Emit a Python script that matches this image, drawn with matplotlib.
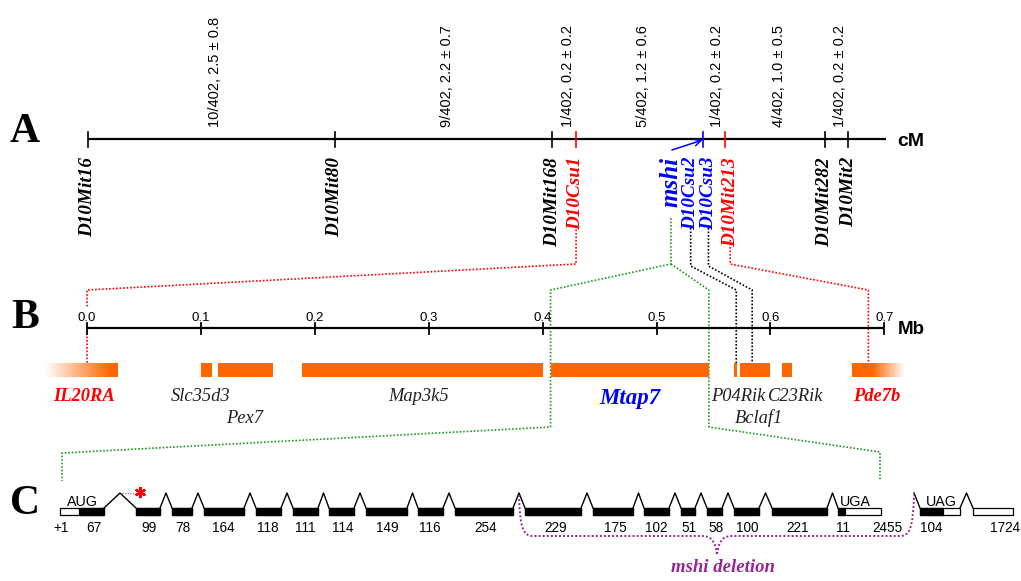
import numpy as np
import matplotlib
matplotlib.use('Agg')
import matplotlib.pyplot as plt
from matplotlib.patches import Rectangle, PathPatch
from matplotlib.path import Path
from matplotlib.colors import to_rgb

# ---------------- Panel A: genetic map (cM) ----------------
tick_names = ['D10Mit16', 'D10Mit80', 'D10Mit168', 'D10Csu1', 'mshi', 'D10Mit213', 'D10Mit282', 'D10Mit2']
tick_cm = [0.0, 2.5, 4.7, 4.94, 6.22, 6.45, 7.46, 7.69]
tick_colors = ['black', 'black', 'black', 'red', 'blue', 'red', 'black', 'black']
interval_labels = ['10/402, 2.5 \u00b1 0.8', '9/402, 2.2 \u00b1 0.7', '1/402, 0.2 \u00b1 0.2',
                   '5/402, 1.2 \u00b1 0.6', '1/402, 0.2 \u00b1 0.2', '4/402, 1.0 \u00b1 0.5',
                   '1/402, 0.2 \u00b1 0.2']
marker_labels = ['D10Mit16', 'D10Mit80', 'D10Mit168', 'D10Csu1', 'mshi', 'D10Csu2', 'D10Csu3',
                 'D10Mit213', 'D10Mit282', 'D10Mit2']
marker_label_cm = [0.0, 2.5, 4.7, 4.94, 5.90, 6.10, 6.28, 6.50, 7.46, 7.70]
marker_label_colors = ['black', 'black', 'black', 'red', 'blue', 'blue', 'blue', 'red', 'black', 'black']
axis_cm_end = 8.08

# ---------------- Panel B: physical map (Mb) ----------------
mb_ticks = [0.0, 0.1, 0.2, 0.3, 0.4, 0.5, 0.6, 0.7]
mb_tick_labels = ['0.0', '0.1', '0.2', '0.3', '0.4', '0.5', '0.6', '0.7']
gene_names = ['IL20RA', 'Slc35d3', 'Pex7', 'Map3k5', 'Mtap7', 'P04Rik', 'Bclaf1', 'C23Rik', 'Pde7b']
gene_start = [-0.037, 0.100, 0.115, 0.189, 0.407, 0.568, 0.573, 0.610, 0.672]
gene_end = [0.027, 0.110, 0.163, 0.4005, 0.546, 0.571, 0.600, 0.619, 0.718]
gene_label_mb = [-0.003, 0.100, 0.138, 0.2915, 0.4767, 0.5716, 0.590, 0.6225, 0.6936]
gene_label_row = [0, 0, 1, 0, 0, 0, 1, 0, 0]
gene_label_color = ['red', '#222222', '#222222', '#222222', 'blue', '#222222', '#222222', '#222222', 'red']
gene_label_bold = [True, False, False, False, True, False, False, False, True]
phys_marker_names = ['D10Csu1', 'D10Csu2', 'D10Csu3', 'D10Mit213']
phys_marker_mb = [0.0, 0.570, 0.584, 0.686]

# ---------------- Panel C: Mtap7 exon structure (schematic units) ----------------
exon_start = [60, 136, 172, 204, 256, 293, 329, 366, 418, 455, 525, 593, 644, 681, 707, 734, 772, 838, 920, 973]
exon_end = [104, 160, 192, 244, 281, 318, 354, 407, 443, 513, 581, 633, 669, 695, 722, 759, 827, 881, 960, 1013]
cds_start = [79, 136, 172, 204, 256, 293, 329, 366, 418, 455, 525, 593, 644, 681, 707, 734, 772, 838, 920, None]
cds_end = [104, 160, 192, 244, 281, 318, 354, 407, 443, 513, 581, 633, 669, 695, 722, 759, 827, 845, 943, None]
alt_intron_peak = 914
exon_label_text = ['+1', '67', '99', '78', '164', '118', '111', '114', '149', '116', '254', '229', '175',
                   '102', '51', '58', '100', '221', '11', '2455', '104', '1724']
exon_label_x = [61, 94, 149, 183, 223, 268, 305, 343, 387, 430, 486, 556, 615, 656, 689, 716, 747,
                798, 843, 887, 931, 1005]
codon_text = ['AUG', 'UGA', 'UAG']
codon_x = [82, 855, 941]
deletion_first_intron = 9   # intron after exon index 9 (peak at deletion start)

# ---------------- styles ----------------
W, H = 1021, 581
ORANGE = '#FF6600'
GREEN = '#1E9B1E'
PURPLE = '#962596'
SERIF = 'Liberation Serif'
SANS = 'Liberation Sans'
DOT = (0, (1, 1.1))

fig = plt.figure(figsize=(W / 100, H / 100), dpi=100)
base = fig.add_axes([0, 0, 1, 1])
base.set_xlim(0, W)
base.set_ylim(H, 0)
base.axis('off')

# cM axes: 0 cM at px 88, 98.8 px per cM
axA = fig.add_axes([0, 0, 1, 1], facecolor='none')
axA.set_xlim(-88 / 98.8, (W - 88) / 98.8)
axA.set_ylim(H, 0)
axA.axis('off')
# Mb axes: 0 Mb at px 87, 1139 px per Mb
axB = fig.add_axes([0, 0, 1, 1], facecolor='none')
axB.set_xlim(-87 / 1139, (W - 87) / 1139)
axB.set_ylim(H, 0)
axB.axis('off')


def px(ax, x):
    return base.transData.inverted().transform(ax.transData.transform((x, 0)))[0]


# Panel letters
for letter, y in zip(['A', 'B', 'C'], [142, 328, 514]):
    base.text(25, y, letter, fontsize=30, fontweight='bold', family=SERIF, ha='center', va='baseline')

# ---------- Panel A ----------
yA = 139
axA.plot([tick_cm[0], axis_cm_end], [yA, yA], color='black', lw=1.6, solid_capstyle='butt', zorder=3)
for cm, c in zip(tick_cm, tick_colors):
    axA.plot([cm, cm], [132, 147], color=c, lw=1.2, zorder=4)
base.text(897, 146, 'cM', fontsize=14, fontweight='bold', family=SANS, ha='left', va='baseline')
for i, lab in enumerate(interval_labels):
    mid = (tick_cm[i] + tick_cm[i + 1]) / 2
    axA.annotate(lab, (mid, 127), xytext=(2.5, 0), textcoords='offset points', rotation=90,
                 ha='center', va='bottom', fontsize=10.5, family=SANS)
for lab, cm, c in zip(marker_labels, marker_label_cm, marker_label_colors):
    fs = 18 if lab == 'mshi' else 13.8
    axA.text(cm, 157, lab, rotation=90, ha='center', va='top', fontsize=fs, fontweight='bold',
             style='italic', family=SERIF, color=c)
# mshi arrow
axA.annotate('', xy=(tick_cm[4], 140), xytext=(5.91, 150),
             arrowprops=dict(arrowstyle='->', color='blue', lw=1.1, shrinkA=0, shrinkB=0,
                             mutation_scale=12))

# ---------- Connectors A -> B -> C ----------
csu1_x = px(axA, marker_label_cm[3])
mshi_x = px(axA, marker_label_cm[4])
csu2_x = px(axA, marker_label_cm[5])
csu3_x = px(axA, marker_label_cm[6])
mit213_x = px(axA, marker_label_cm[7])
b_csu1 = px(axB, phys_marker_mb[0])
b_csu2 = px(axB, phys_marker_mb[1])
b_csu3 = px(axB, phys_marker_mb[2])
b_mit213 = px(axB, phys_marker_mb[3])
b_mtap_s = px(axB, gene_start[4])
b_mtap_e = px(axB, gene_end[4])
c_s = exon_start[0]
c_e = exon_end[17]

lines = [
    ([csu1_x, csu1_x, b_csu1, b_csu1], [226, 264, 290, 308], 'red'),
    ([b_csu1, b_csu1], [333, 363], 'red'),
    ([mit213_x, mit213_x, b_mit213, b_mit213], [240, 264, 290, 363], 'red'),
    ([csu2_x, csu2_x, b_csu2, b_csu2], [228, 266, 290, 363], 'black'),
    ([csu3_x, csu3_x, b_csu3, b_csu3], [228, 266, 290, 363], 'black'),
    ([mshi_x, mshi_x, b_mtap_s, b_mtap_s, c_s + 2, c_s + 2], [218, 264, 290, 427, 453, 481], GREEN),
    ([mshi_x, b_mtap_e, b_mtap_e, c_e - 1, c_e - 1], [264, 290, 427, 452, 481], GREEN),
]
for xs, ys, c in lines:
    base.plot(xs, ys, color=c, lw=1.2, linestyle=DOT, zorder=6)

# ---------- Panel B ----------
yB = 328
axB.plot([mb_ticks[0], mb_ticks[-1]], [yB, yB], color='black', lw=1.6, solid_capstyle='butt', zorder=3)
for t, lab in zip(mb_ticks, mb_tick_labels):
    axB.plot([t, t], [323, 334], color='black', lw=1.3, zorder=4)
    axB.text(t, 321, lab, ha='center', va='baseline', fontsize=9.5, family=SANS)
base.text(898, 334, 'Mb', fontsize=13.5, fontweight='bold', family=SANS, ha='left', va='baseline')

rgb = to_rgb(ORANGE)
for i, (name, s, e) in enumerate(zip(gene_names, gene_start, gene_end)):
    if name == 'IL20RA':
        xs = np.linspace(s, e, 300)
        a = np.clip((xs - s) / (0.020 - s), 0, 1)
    elif name == 'Pde7b':
        xs = np.linspace(s, e, 300)
        a = np.clip((e - xs) / (e - 0.690), 0, 1)
    else:
        axB.add_patch(Rectangle((s, 363), e - s, 14, facecolor=ORANGE, edgecolor='none', zorder=2))
        continue
    img = np.zeros((1, 300, 4))
    img[..., 0], img[..., 1], img[..., 2] = rgb
    img[0, :, 3] = a
    axB.imshow(img, extent=(s, e, 377, 363), aspect='auto', interpolation='bilinear', zorder=2)
axB.set_xlim(-87 / 1139, (W - 87) / 1139)
axB.set_ylim(H, 0)

for name, x, row, c, b in zip(gene_names, gene_label_mb, gene_label_row, gene_label_color, gene_label_bold):
    y = 401 if row == 0 else 423
    fs = 13.3
    if name == 'Mtap7':
        fs, y = 16.5, 404
    axB.text(x, y, name, ha='center', va='baseline', fontsize=fs, style='italic',
             fontweight='bold' if b else 'normal', family=SERIF, color=c)

# ---------- Panel C ----------
y_top, y_bot, y_peak = 508, 515, 493
for i, (s, e) in enumerate(zip(exon_start, exon_end)):
    base.add_patch(Rectangle((s, y_top), e - s, y_bot - y_top, facecolor='white',
                             edgecolor='black', lw=0.9, zorder=3))
    if cds_start[i] is not None:
        base.add_patch(Rectangle((cds_start[i], y_top), cds_end[i] - cds_start[i], y_bot - y_top,
                                 facecolor='black', edgecolor='black', lw=0.9, zorder=4))
# introns
for i in range(len(exon_start) - 1):
    if i == 17:
        continue
    a, b = exon_end[i], exon_start[i + 1]
    base.plot([a, (a + b) / 2, b], [y_top, y_peak, y_top], color='black', lw=1.0, zorder=3)
base.plot([alt_intron_peak, exon_start[18]], [y_peak, y_top], color='black', lw=1.0, zorder=3)
# mutated site in intron 1
p1 = (exon_end[0] + exon_start[1]) / 2
base.plot([p1 + 2, p1 + 16], [y_peak, y_peak], color='gray', lw=0.9, linestyle=DOT, zorder=3)
base.plot(p1 + 20, y_peak - 1, marker=(6, 2, 0), color='red', markersize=8, mew=1.6, zorder=5)

for t, x in zip(exon_label_text, exon_label_x):
    base.text(x, 532, t, ha='center', va='baseline', fontsize=9.8, family=SANS)
for t, x in zip(codon_text, codon_x):
    base.text(x, 505.5, t, ha='center', va='baseline', fontsize=10.3, family=SANS)

# mshi deletion brace
d0 = (exon_end[deletion_first_intron] + exon_start[deletion_first_intron + 1]) / 2
d1 = alt_intron_peak
mid = 717
yb = 536
verts = [(d0, 495), (d0 + 1, 528), (d0 + 4, yb), (d0 + 14, yb),
         (mid - 14, yb),
         (mid - 4, yb), (mid - 1, 545), (mid, 555),
         (mid + 1, 545), (mid + 4, yb), (mid + 14, yb),
         (d1 - 14, yb),
         (d1 - 4, yb), (d1 - 1, 528), (d1, 495)]
codes = [Path.MOVETO, Path.CURVE4, Path.CURVE4, Path.CURVE4, Path.LINETO,
         Path.CURVE4, Path.CURVE4, Path.CURVE4, Path.CURVE4, Path.CURVE4, Path.CURVE4,
         Path.LINETO, Path.CURVE4, Path.CURVE4, Path.CURVE4]
base.add_patch(PathPatch(Path(verts, codes), facecolor='none', edgecolor=PURPLE, lw=1.4,
                         linestyle=DOT, zorder=6))
base.text(723, 572, 'mshi deletion', ha='center', va='baseline', fontsize=13.5, fontweight='bold',
          style='italic', family=SERIF, color=PURPLE)

fig.savefig('out.png', dpi=100)
